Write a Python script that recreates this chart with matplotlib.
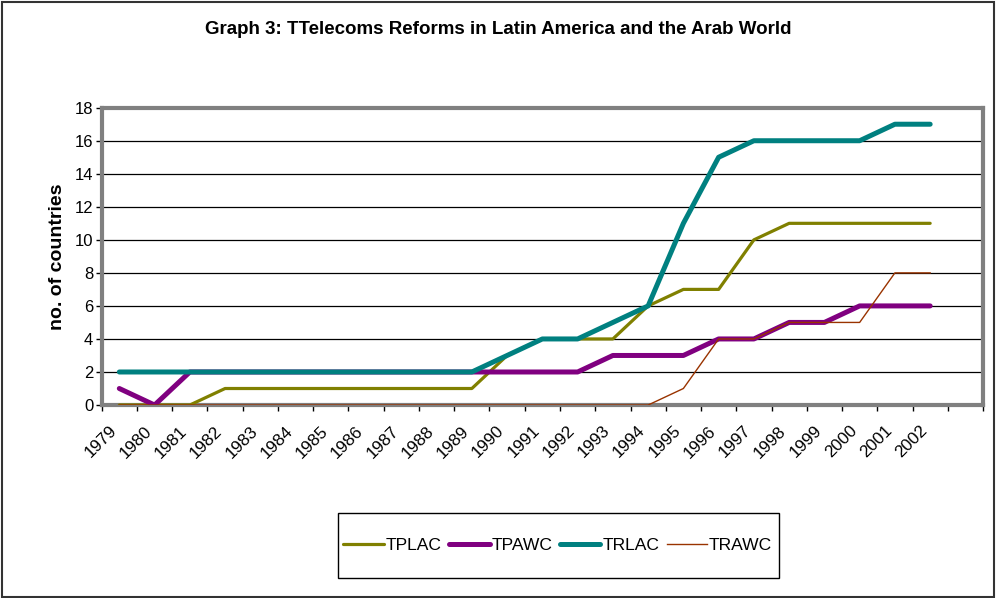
import numpy as np
import matplotlib.pyplot as plt
from matplotlib.patches import Rectangle

plt.rcParams['font.family'] = ['Liberation Sans', 'DejaVu Sans']

years = [str(y) for y in range(1979, 2003)]

tplac = [0, 0, 0, 1, 1, 1, 1, 1, 1, 1, 1, 3, 4, 4, 4, 6, 7, 7, 10, 11, 11, 11, 11, 11]
tpawc = [1, 0, 2, 2, 2, 2, 2, 2, 2, 2, 2, 2, 2, 2, 3, 3, 3, 4, 4, 5, 5, 6, 6, 6]
trlac = [2, 2, 2, 2, 2, 2, 2, 2, 2, 2, 2, 3, 4, 4, 5, 6, 11, 15, 16, 16, 16, 16, 17, 17]
trawc = [0, 0, 0, 0, 0, 0, 0, 0, 0, 0, 0, 0, 0, 0, 0, 0, 1, 4, 4, 5, 5, 5, 8, 8]

fig = plt.figure(figsize=(9.97, 5.98), dpi=100)
ax = fig.add_axes([0.102, 0.3227, 0.884, 0.4972])

x = np.arange(len(years))
ax.plot(x, tplac, color='#808000', lw=2.3, solid_capstyle='round', label='TPLAC', zorder=3)
ax.plot(x, tpawc, color='#800080', lw=3.6, solid_capstyle='round', label='TPAWC', zorder=3)
ax.plot(x, trlac, color='#008080', lw=3.6, solid_capstyle='round', label='TRLAC', zorder=3)
ax.plot(x, trawc, color='#993300', lw=1.0, label='TRAWC', zorder=3)

ax.set_xlim(-0.5, len(years) + 0.5)
ax.set_ylim(0, 18)
ax.set_yticks(range(0, 19, 2))
ax.yaxis.grid(True, color='black', lw=0.9)
ax.set_axisbelow(True)

# category labels at centres, tick marks at the boundaries
ax.set_xticks(x)
ax.set_xticklabels(years, rotation=45, ha='right', va='top', fontsize=12.3)
ax.tick_params(axis='x', which='major', length=0, pad=13)
ax.set_xticks(np.arange(-0.5, len(years) + 1, 1), minor=True)
ax.tick_params(axis='x', which='minor', length=4, width=1, color='black')
ax.tick_params(axis='y', length=4, width=1, color='black', labelsize=12, pad=2)

for s in ax.spines.values():
    s.set_color('#808080')
    s.set_linewidth(3)

ax.set_ylabel('no. of countries', fontsize=14, fontweight='bold', labelpad=6)
fig.text(0.5, 0.950, 'Graph 3: TTelecoms Reforms in Latin America and the Arab World',
         ha='center', va='center', fontsize=13.5, fontweight='bold')

leg = fig.legend(loc='center', bbox_to_anchor=(0.5595, 0.0886), ncol=4, fontsize=12.6,
                 frameon=False, handlelength=2.3, handletextpad=0.1,
                 columnspacing=0.45, borderpad=0, borderaxespad=0)

# legend box (Excel style: tall, narrow side padding)
fig.patches.append(Rectangle((338 / 997, 1 - 578 / 598), 441 / 997, 65 / 598,
                             transform=fig.transFigure, fill=False,
                             edgecolor='black', lw=1.0))
fig.patches.append(Rectangle((0.002, 0.002), 0.995, 0.995, transform=fig.transFigure,
                             fill=False, edgecolor='#333333', lw=1.5))

fig.savefig('out.png', dpi=100)
